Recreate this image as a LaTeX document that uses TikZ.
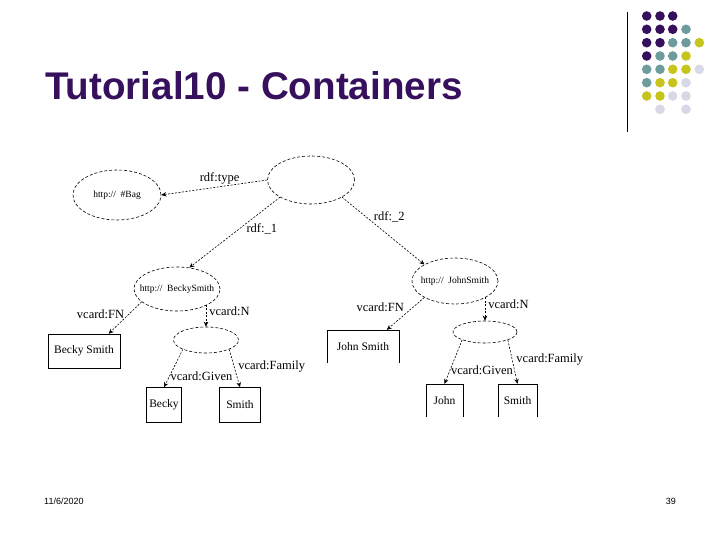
\documentclass[tikz,border=0pt]{standalone}
\usepackage{fontspec}
\setmainfont{Liberation Serif}
\newfontfamily\arialf{Liberation Sans}
\usetikzlibrary{shapes.geometric,arrows.meta}
\definecolor{dpurple}{HTML}{36105C}
\definecolor{dteal}{HTML}{6E9C9C}
\definecolor{dyellow}{HTML}{C8C41E}
\definecolor{dlight}{HTML}{D8D8E6}
\tikzset{
  res/.style={ellipse, draw, dash pattern=on 3pt off 2pt, line width=0.6pt, inner sep=0pt},
  restext/.style={font=\fontsize{9.5}{10}\selectfont, inner sep=0pt},
  lit/.style={rectangle, draw, line width=0.6pt, inner sep=0pt, font=\fontsize{11.5}{13}\selectfont},
  openlit/.style={rectangle, inner sep=0pt, font=\fontsize{11.5}{13}\selectfont},
  prop/.style={dash pattern=on 2pt off 1.5pt, line width=0.6pt, -{Stealth[length=5pt,width=4.5pt]}},
  plab/.style={font=\fontsize{12.5}{13}\selectfont, inner sep=1pt},
}
\begin{document}
\begin{tikzpicture}[x=1pt,y=-1pt]
\useasboundingbox[fill=white] (0,0) rectangle (720,540);
% logo
\draw[line width=1pt] (627,12) -- (627,132);
\foreach \c/\x/\y in {dpurple/646.7/16, dpurple/660/16, dpurple/672.7/16,
  dpurple/646.7/29.3, dpurple/660/29.3, dpurple/672.7/29.3, dteal/686/29.3,
  dpurple/646.7/42.7, dpurple/660/42.7, dteal/672.7/42.7, dteal/686/42.7, dyellow/699.3/42.7,
  dpurple/646.7/56, dteal/660/56, dteal/672.7/56, dyellow/686/56,
  dteal/646.7/69.3, dteal/660/69.3, dyellow/672.7/69.3, dyellow/686/69.3, dlight/699.3/69.3,
  dteal/646.7/82.7, dyellow/660/82.7, dyellow/672.7/82.7, dlight/686/82.7,
  dyellow/646.7/96, dyellow/660/96, dlight/672.7/96, dlight/686/96,
  dlight/660/109.3, dlight/686/109.3}
  \fill[\c] (\x,\y) circle (4.8);
% title
\node[anchor=base west, inner sep=0pt, text=dpurple, font=\arialf\bfseries\fontsize{38.6}{42}\selectfont] (title) at (45,100) {Tutorial10 - Containers};
% resource nodes
\node[res, minimum width=87, minimum height=48] (top) at (311,180) {};
\node[res, minimum width=88, minimum height=50] (bag) at (117,195) {};
\node[restext] (bagt) at (117,195) {http://\enspace\#Bag};
\node[res, minimum width=86, minimum height=44] (becky) at (177,289) {};
\node[restext] (beckyt) at (177,289) {http://\enspace BeckySmith};
\node[res, minimum width=86, minimum height=46] (john) at (455,281) {};
\node[restext] (johnt) at (455,281) {http://\enspace JohnSmith};
\node[res, minimum width=65, minimum height=26] (bn) at (206,340) {};
\node[res, minimum width=64, minimum height=22] (jn) at (485,332) {};
% literal nodes
\node[lit, minimum width=72, minimum height=34] (bfn) at (84,351) {Becky Smith};
\node[lit, minimum width=35, minimum height=35] (bgiven) at (164,405) {Becky};
\node[lit, minimum width=41, minimum height=35] (bfam) at (240,405) {Smith};
\node[openlit, minimum width=72, minimum height=33] (jfn) at (363,346.5) {John Smith};
\node[openlit, minimum width=37, minimum height=33] (jgiven) at (444.5,400.5) {John};
\node[openlit, minimum width=39, minimum height=33] (jfam) at (517.5,400.5) {Smith};
\foreach \n in {jfn,jgiven,jfam}
  \draw[line width=0.6pt] (\n.south west) -- (\n.north west) -- (\n.north east) -- (\n.south east);
% edges
\draw[prop] (top.west) -- (bag.east) node[plab, pos=0.45, above=1pt] (l1) {rdf:type};
\draw[prop] (top.south west) -- (becky.60) node[plab, pos=0.45, right=6pt] (l2) {rdf:\_1};
\draw[prop] (top.south east) -- (john.north west) node[plab, pos=0.3, right=6pt] (l3) {rdf:\_2};
\draw[prop] (becky.200) -- (bfn.35) node[plab, pos=0.4, left=3pt] (l4) {vcard:FN};
\draw[prop] (bn.north |- becky.south east) -- (bn.north) node[plab, pos=0.3, right=2pt] (l5) {vcard:N};
\draw[prop] (bn.south west) -- (bgiven.north) node[plab, pos=0.72, right=0pt] (l6) {vcard:Given};
\draw[prop] (bn.south east) -- (bfam.north) node[plab, pos=0.45, right=3pt] (l7) {vcard:Family};
\draw[prop] (john.south west) -- (jfn.35) node[plab, pos=0.3, left=8pt] (l8) {vcard:FN};
\draw[prop] (jn.north |- john.south east) -- (jn.north) node[plab, pos=0.3, right=2pt] (l9) {vcard:N};
\draw[prop] (jn.south west) -- (jgiven.north) node[plab, pos=0.7, right=0pt] (l10) {vcard:Given};
\draw[prop] (jn.south east) -- (jfam.north) node[plab, pos=0.45, right=3pt] (l11) {vcard:Family};
% footer
\node[anchor=base west, inner sep=0pt, font=\arialf\fontsize{9}{10}\selectfont] (date) at (44,504) {11/6/2020};
\node[anchor=base east, inner sep=0pt, font=\arialf\fontsize{9}{10}\selectfont] (page) at (676,504) {39};
\end{tikzpicture}
\end{document}
